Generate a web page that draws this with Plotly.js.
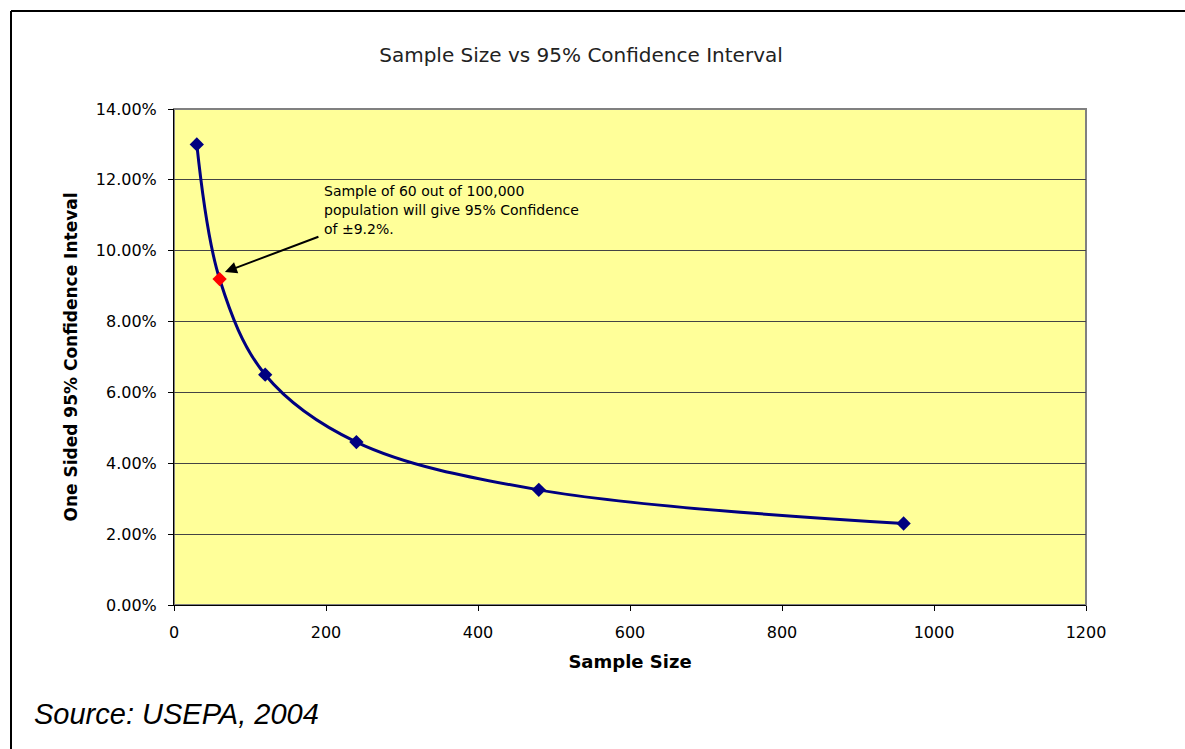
<!DOCTYPE html>
<html>
<head>
<meta charset="utf-8">
<script src="https://cdn.plot.ly/plotly-3.0.1.min.js"></script>
<style>html,body{margin:0;padding:0;background:#fff;}#chart{width:1185px;height:749px;}</style>
</head>
<body>
<div id="chart"></div>
<script>
// Data
const sampleSizes = [30, 60, 120, 240, 480, 960];
const confidence = [0.130, 0.092, 0.065, 0.046, 0.0325, 0.023];
const markerColors = ['#000080', '#FF0000', '#000080', '#000080', '#000080', '#000080'];
const xTicks = [0, 200, 400, 600, 800, 1000, 1200];
const yTicks = [0, 0.02, 0.04, 0.06, 0.08, 0.10, 0.12, 0.14];
const titleText = 'Sample Size vs 95% Confidence Interval';
const xTitle = 'Sample Size';
const yTitle = 'One Sided 95% Confidence Inteval';
const noteLines = ['Sample of 60 out of 100,000', 'population will give 95% Confidence', 'of \u00b19.2%.'];
const sourceText = 'Source: USEPA, 2004';

const trace = {
  x: sampleSizes,
  y: confidence,
  type: 'scatter',
  mode: 'lines+markers',
  line: {color: '#000080', width: 3, shape: 'spline', smoothing: 1},
  marker: {symbol: 'diamond', size: 11, color: markerColors},
  hoverinfo: 'skip'
};

const wideFont = 'DejaVu Sans, Verdana, sans-serif';
const arialFont = 'Liberation Sans, Arial, sans-serif';

const annotations = noteLines.map((t, i) => ({
  text: t, x: 194.5, y: 0.1197, xref: 'x', yref: 'y', xanchor: 'left', yanchor: 'top',
  yshift: -19 * i, showarrow: false, align: 'left',
  font: {family: wideFont, size: 14, color: '#000'}
}));
annotations.push({
  x: 67, y: 0.0940, xref: 'x', yref: 'y',
  ax: 192, ay: 0.1041, axref: 'x', ayref: 'y',
  text: ' ', showarrow: true, arrowhead: 2, arrowsize: 1.2, arrowwidth: 2, arrowcolor: '#000',
  font: {size: 1}
});
annotations.push({
  text: sourceText, xref: 'paper', yref: 'paper',
  x: (32 - 174) / 912, y: (605 - 714) / 496, xanchor: 'left', yanchor: 'middle',
  showarrow: false, font: {family: arialFont, size: 29, color: '#000', style: 'italic'}
});

const px = v => (v - 174) / 912;
const py = v => (605 - v) / 496;

const layout = {
  width: 1185, height: 749,
  margin: {l: 174, r: 99, t: 109, b: 144},
  paper_bgcolor: '#ffffff',
  plot_bgcolor: '#FFFF99',
  showlegend: false,
  title: {text: titleText, x: 581 / 1185, xref: 'container', xanchor: 'center',
          y: 1 - 55 / 749, yref: 'container', yanchor: 'middle',
          font: {family: wideFont, size: 20, color: '#222'}},
  xaxis: {
    range: [0, 1200], tickvals: xTicks, ticktext: xTicks.map(String),
    showgrid: false, zeroline: false, showline: true, linecolor: '#000', linewidth: 1,
    ticks: 'outside', ticklen: 5, tickcolor: '#000', ticklabelstandoff: 8,
    tickfont: {family: wideFont, size: 16, color: '#000'},
    title: {text: '<b>' + xTitle + '</b>', standoff: 14, font: {family: wideFont, size: 18, color: '#000'}}
  },
  yaxis: {
    range: [0, 0.14], tickvals: yTicks, ticktext: yTicks.map(v => (v * 100).toFixed(2) + '%'),
    showgrid: true, gridcolor: '#444', gridwidth: 1, zeroline: false,
    showline: true, linecolor: '#000', linewidth: 1,
    ticks: 'outside', ticklen: 5, tickcolor: '#000', ticklabelstandoff: 8,
    tickfont: {family: wideFont, size: 16, color: '#000'},
    title: {text: '<b>' + yTitle + '</b>', standoff: 13, font: {family: wideFont, size: 17, color: '#000'}}
  },
  annotations: annotations,
  shapes: [
    {type: 'rect', xref: 'paper', yref: 'paper', x0: 0, x1: 1, y0: 0, y1: 1,
     line: {color: '#808080', width: 2}, layer: 'below'},
    {type: 'line', xref: 'paper', yref: 'paper', x0: px(11), x1: px(1185), y0: py(11), y1: py(11),
     line: {color: '#000', width: 2}},
    {type: 'line', xref: 'paper', yref: 'paper', x0: px(11), x1: px(11), y0: py(11), y1: py(749),
     line: {color: '#000', width: 2}}
  ]
};

Plotly.newPlot('chart', [trace], layout, {displayModeBar: false, staticPlot: true});
</script>
</body>
</html>
